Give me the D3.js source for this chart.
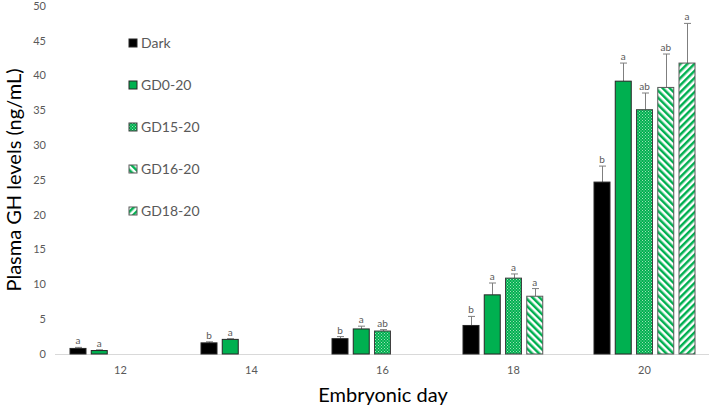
<!DOCTYPE html>
<html><head><meta charset="utf-8">
<script src="https://cdn.jsdelivr.net/npm/d3@7"></script>
<style>html,body{margin:0;padding:0;background:#fff;} svg{display:block;font-family:Lato,"Open Sans",sans-serif;}</style>
</head><body>
<svg id="c" width="711" height="409"></svg>
<script>
const categories = ["12","14","16","18","20"];
const series = ["Dark","GD0-20","GD15-20","GD16-20","GD18-20"];
const values = {
  "Dark":    [0.8, 1.6, 2.2, 4.1, 24.7],
  "GD0-20":  [0.5, 2.1, 3.6, 8.5, 39.2],
  "GD15-20": [null, null, 3.3, 10.9, 35.1],
  "GD16-20": [null, null, null, 8.3, 38.3],
  "GD18-20": [null, null, null, null, 41.8]
};
const errors = {
  "Dark":    [0.15, 0.15, 0.3, 1.3, 2.3],
  "GD0-20":  [0.1, 0.1, 0.4, 1.7, 2.6],
  "GD15-20": [null, null, 0.2, 0.6, 2.4],
  "GD16-20": [null, null, null, 1.1, 4.8],
  "GD18-20": [null, null, null, null, 5.7]
};
const letters = {
  "Dark":    ["a","b","b","b","b"],
  "GD0-20":  ["a","a","a","a","a"],
  "GD15-20": [null,null,"ab","a","ab"],
  "GD16-20": [null,null,null,"a","ab"],
  "GD18-20": [null,null,null,null,"a"]
};
const yTicks = [0,5,10,15,20,25,30,35,40,45,50];

const svg = d3.select("#c");
const defs = svg.append("defs");
const green = "#00B050";
// dotted pattern
const p1 = defs.append("pattern").attr("id","dots").attr("patternUnits","userSpaceOnUse").attr("width",3).attr("height",3);
p1.append("rect").attr("width",3).attr("height",3).attr("fill",green);
p1.append("rect").attr("x",0).attr("y",0).attr("width",1).attr("height",1).attr("fill","#9fe0b8");
p1.append("rect").attr("x",1.5).attr("y",1.5).attr("width",1).attr("height",1).attr("fill","#9fe0b8");
// "\" stripes
const p2 = defs.append("pattern").attr("id","dn").attr("patternUnits","userSpaceOnUse").attr("width",5).attr("height",5).attr("patternTransform","rotate(-45)");
p2.append("rect").attr("width",5).attr("height",5).attr("fill","#fff");
p2.append("rect").attr("width",2.5).attr("height",5).attr("fill",green);
// "/" stripes
const p3 = defs.append("pattern").attr("id","up").attr("patternUnits","userSpaceOnUse").attr("width",5).attr("height",5).attr("patternTransform","rotate(45)");
p3.append("rect").attr("width",5).attr("height",5).attr("fill","#fff");
p3.append("rect").attr("width",2.5).attr("height",5).attr("fill",green);

const fills = {"Dark":"#000","GD0-20":green,"GD15-20":"url(#dots)","GD16-20":"url(#dn)","GD18-20":"url(#up)"};
const strokes = {"Dark":"#262626","GD0-20":"#262626","GD15-20":"#404040","GD16-20":"#595959","GD18-20":"#595959"};

const y = d3.scaleLinear().domain([0,50]).range([354,6]);
const x0 = d3.scaleBand().domain(categories).range([55,710]).paddingInner(0).paddingOuter(0);
const x1 = d3.scaleBand().domain(series).range([0,102]).paddingInner(0.2);
const groupOff = (x0.bandwidth()-100)/2 - 1;

// y tick labels
svg.append("g").selectAll("text").data(yTicks).join("text")
  .attr("x",46).attr("y",d=>y(d)).attr("dy","0.35em").attr("text-anchor","end")
  .attr("font-size",11).attr("fill","#595959").text(d=>d);

// x axis line
svg.append("line").attr("x1",55).attr("x2",709).attr("y1",y(0)+0.5).attr("y2",y(0)+0.5)
  .attr("stroke","#d9d9d9").attr("stroke-width",1);

// x tick labels
svg.append("g").selectAll("text").data(categories).join("text")
  .attr("x",d=>x0(d)+x0.bandwidth()/2).attr("y",374).attr("text-anchor","middle")
  .attr("font-size",11).attr("fill","#595959").text(d=>d);

const recs = [];
series.forEach(s=>categories.forEach((c,i)=>{
  if(values[s][i]!=null) recs.push({s,c,v:values[s][i],e:errors[s][i],l:letters[s][i]});
}));

const bx = d=>x0(d.c)+groupOff+x1(d.s);
const bw = x1.bandwidth();

// error bars
const eg = svg.append("g").attr("stroke","#7f7f7f").attr("stroke-width",1);
recs.forEach(d=>{
  const cx = Math.round(bx(d)+bw/2)+0.5;
  const yt = y(d.v+d.e);
  eg.append("line").attr("x1",cx).attr("x2",cx).attr("y1",y(d.v)).attr("y2",yt);
  eg.append("line").attr("x1",cx-3.5).attr("x2",cx+3.5).attr("y1",yt).attr("y2",yt);
});

// bars
svg.append("g").selectAll("rect").data(recs).join("rect")
  .attr("x",d=>bx(d)+0.5).attr("y",d=>y(d.v)).attr("width",bw-1).attr("height",d=>y(0)-y(d.v))
  .attr("fill",d=>fills[d.s]).attr("stroke",d=>strokes[d.s]).attr("stroke-width",1);

// letters
svg.append("g").selectAll("text").data(recs).join("text")
  .attr("x",d=>bx(d)+bw/2).attr("y",d=>y(d.v+d.e)-3).attr("text-anchor","middle")
  .attr("font-size",10).attr("fill","#595959").text(d=>d.l);

// legend
const lg = svg.append("g");
series.forEach((s,i)=>{
  const yy = 43 + i*42;
  lg.append("rect").attr("x",129).attr("y",yy-4).attr("width",8).attr("height",8)
    .attr("fill",fills[s]).attr("stroke",strokes[s]).attr("stroke-width",1);
  lg.append("text").attr("x",141).attr("y",yy).attr("dy","0.36em")
    .attr("font-size",14).attr("fill","#595959").text(s);
});

// titles
svg.append("text").attr("transform","translate(21,180) rotate(-90)").attr("text-anchor","middle")
  .attr("font-size",20).attr("fill","#000").text("Plasma GH levels (ng/mL)");
svg.append("text").attr("x",383).attr("y",402).attr("text-anchor","middle")
  .attr("font-size",20).attr("fill","#000").text("Embryonic day");
</script>
</body></html>
